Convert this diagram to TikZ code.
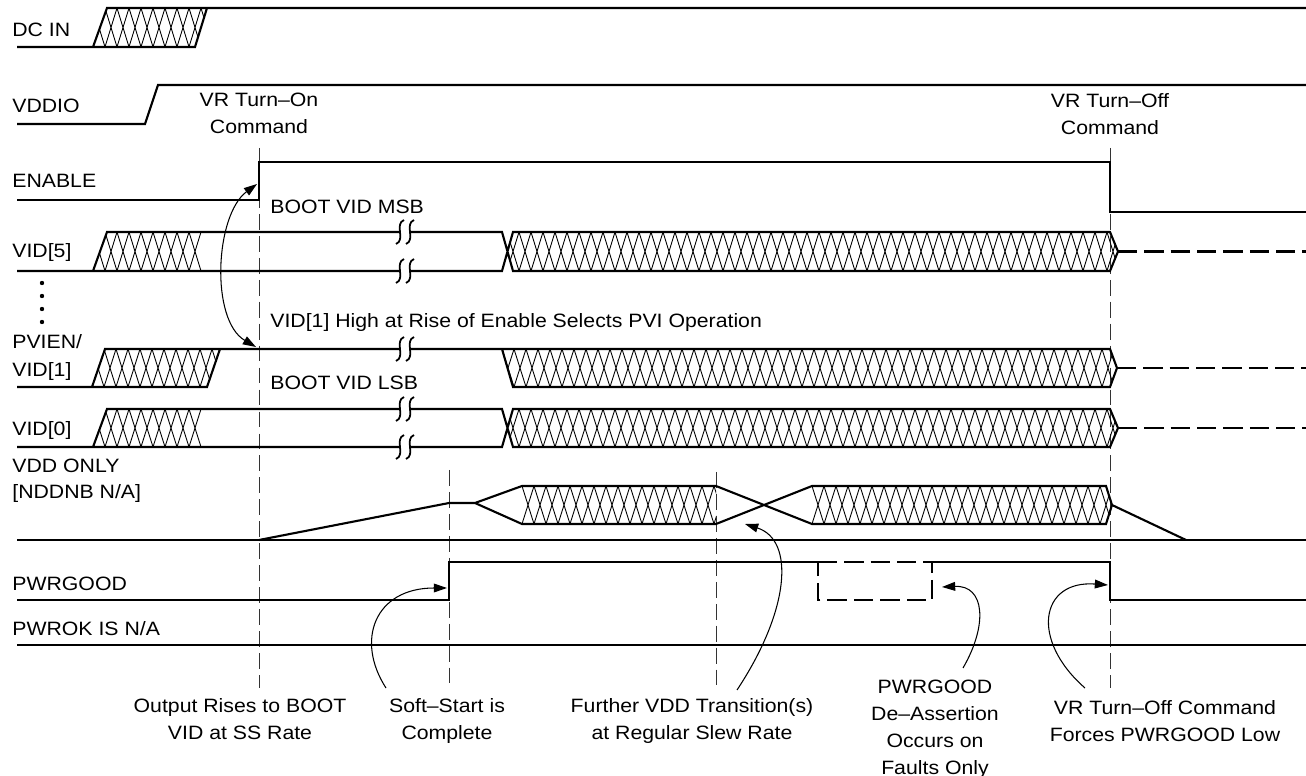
\documentclass[tikz,border=0pt]{standalone}
\usepackage{fontspec}
\setmainfont{Liberation Sans}[FakeStretch=1.1]
\usetikzlibrary{arrows.meta}

% cross hatch of an undefined bus value: clip path, x from, x to, top y, bottom y
\newcommand{\xhatch}[5]{%
  \begin{scope}
    \clip #1;
    \pgfmathsetmacro{\hxnext}{#2+12}
    \foreach \hx in {#2,\hxnext,...,#3}
      \draw[hatchline] (\hx,#4) -- ++(12,#5-#4) (\hx,#5) -- ++(12,#4-#5);
  \end{scope}}

\tikzset{
  sig/.style={line width=1.2pt, line join=miter},
  hatchline/.style={line width=0.5pt},
  guide/.style={line width=0.5pt, black!80, dash pattern=on 9pt off 3.5pt},
  later/.style={line width=1.2pt, dash pattern=on 11pt off 4pt},
  note/.style={line width=0.6pt, -{Triangle[length=7.5pt,width=5pt]}},
  lbl/.style={anchor=base west, inner sep=0pt},
  cmt/.style={anchor=north, inner sep=0pt, align=center},
}

\begin{document}
\begin{tikzpicture}[x=0.02cm, y=-0.02cm, font=\fontsize{11}{15.3}\selectfont]
  \useasboundingbox (0,0) rectangle (1306,776);

  % === signal names (left column) ===
  \node[lbl] (ndc)   at (12,37)  {DC IN};
  \node[lbl] (nio)   at (12,113) {VDDIO};
  \node[lbl] (nen)   at (12,188) {ENABLE};
  \node[lbl] (nv5)   at (12,258) {VID[5]};
  \node[lbl] (npv)   at (12,349) {PVIEN/};
  \node[lbl] (nv1)   at (12,377) {VID[1]};
  \node[lbl] (nv0)   at (12,436) {VID[0]};
  \node[lbl] (nvdd)  at (12,473) {VDD ONLY};
  \node[lbl] (nnb)   at (12,499) {[NDDNB N/A]};
  \node[lbl] (npg)   at (12,591) {PWRGOOD};
  \node[lbl] (npok)  at (12,636) {PWROK IS N/A};

  % VID[4..2] left out
  \foreach \dy in {283,296,309,322}
    \fill (42,\dy) circle (2.2);

  % === time markers ===
  \draw[guide] (259,148) -- (259,688);
  \draw[guide] (1110,148) -- (1110,688);
  \draw[guide] (449,470) -- (449,686);
  \draw[guide] (716,472) -- (716,686);

  \node[cmt] (ton)  at (259,93)  {VR Turn--On\\Command};
  \node[cmt] (toff) at (1110,93) {VR Turn--Off\\Command};

  % === DC IN / VDDIO / ENABLE ===
  \xhatch{(93,47) -- (107,8) -- (207,8) -- (195,47) -- cycle}{81}{207}{8}{47}
  \draw[sig] (17,47) -- (195,47) -- (207,8) (93,47) -- (107,8) -- (1306,8);
  \draw[sig] (17,124) -- (145,124) -- (158,85) -- (1306,85);
  \draw[sig] (17,200) -- (259,200) -- (259,162) -- (1110,162) -- (1110,212) -- (1306,212);

  % === VID bus lines: hi / lo / middle ===
  % VID[5]: 232 / 271 / 251.5, VID[0]: 409 / 447 / 428
  \foreach \yt/\yb/\ym in {232/271/251.5, 409/447/428} {
    \xhatch{(93,\yb) -- (107,\yt) -- (207,\yt) -- (207,\yb) -- cycle}{81}{195}{\yt}{\yb}
    \xhatch{(507,\ym) -- (513,\yt) -- (1110,\yt) -- (1118,\ym) -- (1110,\yb) -- (513,\yb) -- cycle}{507}{1110}{\yt}{\yb}
    \draw[sig] (17,\yb) -- (400,\yb) (410,\yb) -- (502,\yb) -- (513,\yt) -- (1110,\yt) -- (1118,\ym)
      -- (1110,\yb) -- (513,\yb) -- (502,\yt) -- (410,\yt) (400,\yt) -- (107,\yt) -- (93,\yb);
    \draw[later] (1118,\ym) -- (1306,\ym);
  }

  % PVIEN/VID[1]: 349 / 387 / 368
  \xhatch{(92,387) -- (105,349) -- (220,349) -- (207,387) -- cycle}{80}{220}{349}{387}
  \xhatch{(502,349) -- (1110,349) -- (1117,368) -- (1110,387) -- (513,387) -- cycle}{502}{1110}{349}{387}
  \draw[sig] (17,387) -- (207,387) -- (220,349) (92,387) -- (105,349) -- (400,349)
    (410,349) -- (1110,349) -- (1117,368) -- (1110,387) -- (513,387) -- (502,349);
  \draw[later] (1117,368) -- (1306,368);

  % breaks in the long BOOT VID stretch
  \foreach \by in {232,271,349,409,447}
    \foreach \bx in {400,410}
      \draw[sig, line width=1pt] (\bx+4,\by-12) .. controls (\bx-6,\by-8) and (\bx+6,\by+8) .. (\bx-4,\by+12);

  \node[lbl] (msb) at (270,214) {BOOT VID MSB};
  \node[lbl] (pvi) at (270,328) {VID[1] High at Rise of Enable Selects PVI Operation};
  \node[lbl] (lsb) at (270,390) {BOOT VID LSB};

  % === VDD ONLY ===
  \xhatch{(522,486) -- (716,486) -- (716,524) -- (522,524) -- cycle}{522}{716}{486}{524}
  \xhatch{(812,486) -- (1106,486) -- (1112,505) -- (1106,524) -- (812,524) -- cycle}{812}{1112}{486}{524}
  \draw[sig] (17,540) -- (1306,540);
  \draw[sig] (259,540) -- (449,503) -- (475,503) -- (522,486) -- (716,486) -- (812,524) -- (1106,524)
    -- (1112,505) -- (1106,486) -- (812,486) -- (716,524) -- (522,524) -- (475,503);
  \draw[sig] (1112,505) -- (1186,540);

  % === PWRGOOD / PWROK ===
  \draw[sig] (17,600) -- (449,600) -- (449,562) -- (818,562) (932,562) -- (1110,562) -- (1110,600) -- (1306,600);
  \draw[later] (818,562) -- (932,562) -- (932,600) -- (818,600) -- cycle;
  \draw[sig] (17,645) -- (1306,645);

  % === notes below ===
  \node[cmt] (rise)  at (240,698)  {Output Rises to BOOT\\VID at SS Rate};
  \node[cmt] (soft)  at (447,698)  {Soft--Start is\\Complete};
  \node[cmt] (trans) at (692,698)  {Further VDD Transition(s)\\at Regular Slew Rate};
  \node[cmt] (fault) at (935,680)  {PWRGOOD\\De--Assertion\\Occurs on\\Faults Only};
  \node[cmt] (force) at (1165,700) {VR Turn--Off Command\\Forces PWRGOOD Low};

  % arrow ends
  \coordinate (enrise) at (257,184);
  \coordinate (pvhigh) at (256,347);
  \coordinate (softs)  at (386,688);
  \coordinate (pgrise) at (447,588);
  \coordinate (transs) at (737,690);
  \coordinate (vddx)   at (745,524);
  \coordinate (faults) at (963,668);
  \coordinate (pgbox)  at (942,587);
  \coordinate (forces) at (1085,688);
  \coordinate (pgfall) at (1108,585);

  \draw[note, {Triangle[length=7.5pt,width=5pt]}-{Triangle[length=7.5pt,width=5pt]}]
    (enrise) .. controls (215,215) and (210,320) .. (pvhigh);
  \draw[note] (softs) .. controls (355,640) and (375,588) .. (pgrise);
  \draw[note] (transs) .. controls (790,610) and (795,540) .. (vddx);
  \draw[note] (faults) .. controls (988,625) and (985,585) .. (pgbox);
  \draw[note] (forces) .. controls (1030,640) and (1040,580) .. (pgfall);
\end{tikzpicture}
\end{document}
